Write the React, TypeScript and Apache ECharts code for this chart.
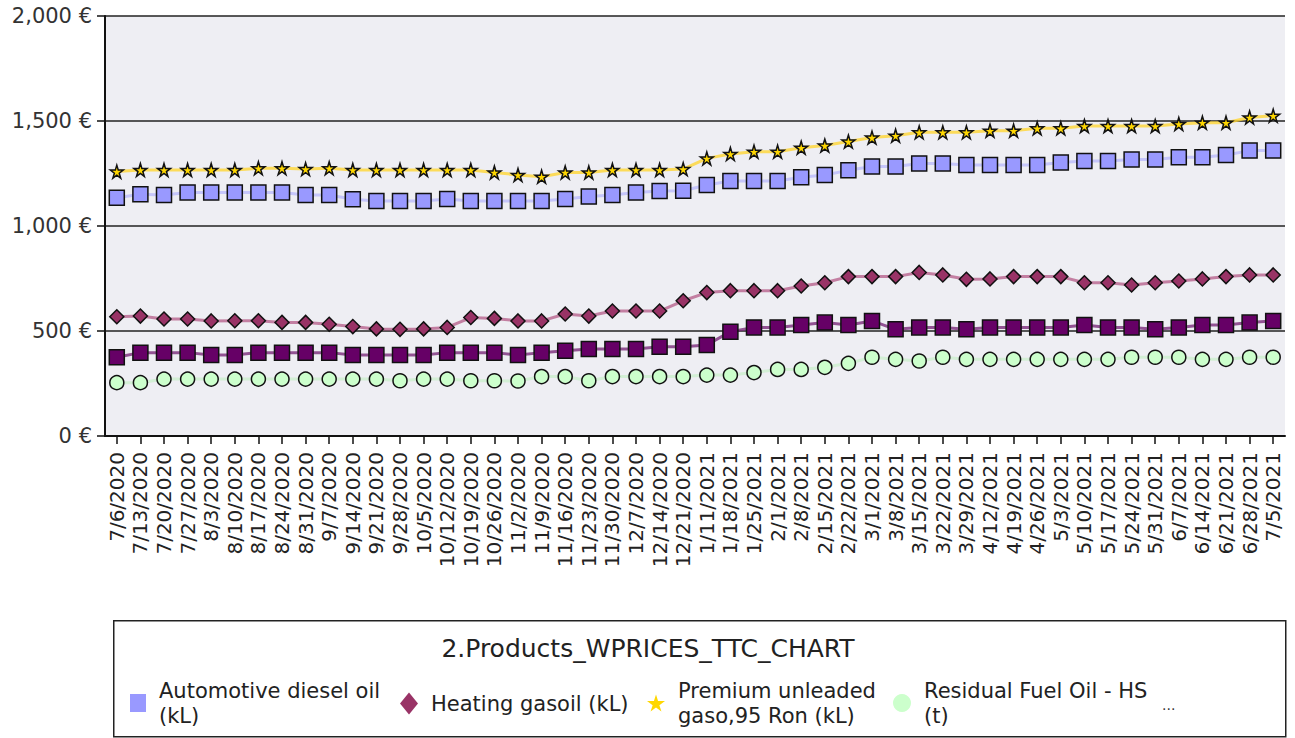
import React, { useEffect, useRef } from 'react';
import * as echarts from 'echarts';

const categories = [
  '7/6/2020', '7/13/2020', '7/20/2020', '7/27/2020', '8/3/2020', '8/10/2020', '8/17/2020', '8/24/2020',
  '8/31/2020', '9/7/2020', '9/14/2020', '9/21/2020', '9/28/2020', '10/5/2020', '10/12/2020', '10/19/2020',
  '10/26/2020', '11/2/2020', '11/9/2020', '11/16/2020', '11/23/2020', '11/30/2020', '12/7/2020', '12/14/2020',
  '12/21/2020', '1/11/2021', '1/18/2021', '1/25/2021', '2/1/2021', '2/8/2021', '2/15/2021', '2/22/2021',
  '3/1/2021', '3/8/2021', '3/15/2021', '3/22/2021', '3/29/2021', '4/12/2021', '4/19/2021', '4/26/2021',
  '5/3/2021', '5/10/2021', '5/17/2021', '5/24/2021', '5/31/2021', '6/7/2021', '6/14/2021', '6/21/2021',
  '6/28/2021', '7/5/2021',
];

const diesel = [
  1135, 1151, 1148, 1160, 1159, 1160, 1159, 1160, 1148, 1148, 1127, 1119, 1119, 1119, 1129, 1119, 1119,
  1119, 1119, 1129, 1140, 1148, 1159, 1167, 1168, 1195, 1214, 1214, 1214, 1232, 1243, 1265, 1283,
  1283, 1298, 1298, 1290, 1290, 1290, 1290, 1302, 1310, 1310, 1317, 1317, 1327, 1327, 1338, 1359, 1359,
];

const heating = [
  568, 571, 557, 557, 548, 549, 549, 541, 541, 532, 521, 510, 508, 510, 517, 564, 560,
  548, 548, 581, 571, 595, 595, 595, 644, 683, 692, 692, 692, 714, 730, 759, 759,
  759, 779, 767, 746, 748, 759, 759, 759, 730, 730, 719, 730, 738, 748, 759, 767, 767,
];

const premium = [
  1259, 1267, 1267, 1267, 1267, 1267, 1275, 1275, 1271, 1275, 1267, 1267, 1267, 1267, 1267, 1267, 1255,
  1243, 1235, 1255, 1255, 1267, 1267, 1267, 1271, 1322, 1343, 1354, 1354, 1373, 1383, 1402, 1421,
  1430, 1446, 1446, 1446, 1454, 1454, 1465, 1465, 1476, 1476, 1476, 1476, 1486, 1492, 1492, 1517, 1525,
];

const residualHS = [
  254, 254, 271, 271, 271, 271, 271, 271, 271, 271, 271, 271, 263, 271, 271, 263, 263,
  262, 283, 283, 263, 283, 283, 283, 283, 290, 290, 302, 317, 317, 327, 346, 375,
  365, 357, 375, 365, 365, 365, 365, 365, 365, 365, 375, 375, 375, 365, 365, 375, 375,
];

const residualLS = [
  375, 397, 397, 397, 386, 386, 397, 397, 397, 397, 386, 386, 386, 386, 397, 397, 397,
  386, 397, 406, 414, 414, 414, 425, 425, 433, 497, 517, 517, 529, 540, 529, 548,
  508, 517, 517, 508, 517, 517, 517, 517, 529, 517, 517, 508, 517, 529, 529, 540, 548,
];

const seriesNames = [
  'Automotive diesel oil (kL)',
  'Heating gasoil (kL)',
  'Premium unleaded gaso,95 Ron (kL)',
  'Residual Fuel Oil - HS (t)',
  'Residual Fuel Oil - LS (t)',
];

const legendLabels = [
  'Automotive diesel oil\n(kL)',
  'Heating gasoil (kL)',
  'Premium unleaded\ngaso,95 Ron (kL)',
  'Residual Fuel Oil - HS\n(t)',
];

const chartTitle = '2.Products_WPRICES_TTC_CHART';

const STAR = 'path://M50,0 L61,35 L98,35 L68,57 L79,91 L50,70 L21,91 L32,57 L2,35 L39,35 Z';
const FONT = 'DejaVu Sans';

function fmtEuro(v: number): string {
  return String(v).replace(/\B(?=(\d{3})+(?!\d))/g, ',') + ' €';
}

export default function App() {
  const ref = useRef<HTMLDivElement>(null);

  useEffect(() => {
    if (!ref.current) return;
    const chart = echarts.init(ref.current, undefined, { renderer: 'svg' });

    const mk = (
      name: string,
      data: number[],
      symbol: string,
      size: number,
      fill: string,
      line: string,
      lineOpacity: number,
      z: number,
    ) => ({
      name,
      type: 'line',
      data,
      symbol,
      symbolSize: size,
      z,
      itemStyle: { color: fill, borderColor: '#111', borderWidth: 1.5 },
      lineStyle: { color: line, width: 3, opacity: lineOpacity },
      emphasis: { disabled: true },
    });

    const legendTextStyle = {
      fontFamily: FONT,
      fontSize: 21,
      color: '#222',
      lineHeight: 25,
      padding: [0, 0, 0, 8],
    };

    const mkLegend = (i: number, icon: string, left: number, top: number, w: number, h: number) => ({
      data: [seriesNames[i]],
      left,
      top,
      padding: 0,
      icon,
      itemWidth: w,
      itemHeight: h,
      selectedMode: false,
      formatter: () => legendLabels[i],
      textStyle: legendTextStyle,
      itemStyle: { borderWidth: 0 },
    });

    chart.setOption({
      animation: false,
      backgroundColor: '#ffffff',
      textStyle: { fontFamily: FONT },
      grid: {
        left: 105,
        right: 10,
        top: 16,
        bottom: 302,
        show: true,
        backgroundColor: '#eeeef3',
        borderWidth: 0,
      },
      xAxis: {
        type: 'category',
        data: categories,
        boundaryGap: true,
        axisLine: { show: true, lineStyle: { color: '#111', width: 2 } },
        axisTick: { show: true, alignWithLabel: true, length: 8, lineStyle: { color: '#111', width: 1.5 } },
        axisLabel: {
          interval: 0,
          rotate: 90,
          margin: 16,
          fontFamily: FONT,
          fontSize: 20,
          color: '#222',
        },
        splitLine: { show: false },
      },
      yAxis: {
        type: 'value',
        min: 0,
        max: 2000,
        interval: 500,
        axisLine: { show: true, lineStyle: { color: '#111', width: 2 } },
        axisTick: { show: true, length: 8, lineStyle: { color: '#111', width: 1.5 } },
        axisLabel: {
          margin: 13,
          fontFamily: FONT,
          fontSize: 21,
          color: '#333',
          formatter: (v: number) => fmtEuro(v),
        },
        splitLine: { show: true, lineStyle: { color: '#222', width: 1.5 } },
      },
      legend: [
        mkLegend(0, 'rect', 130, 678, 16, 18),
        mkLegend(1, 'diamond', 400, 691, 18, 22),
        mkLegend(2, STAR, 647, 678, 18, 18),
        mkLegend(3, 'circle', 893, 678, 18, 18),
      ],
      graphic: [
        {
          type: 'rect',
          left: 113,
          top: 620,
          shape: { width: 1172, height: 116 },
          style: { fill: '#ffffff', stroke: '#222', lineWidth: 1.5 },
          z: -1,
        },
        {
          type: 'text',
          x: 648,
          y: 648,
          style: {
            text: chartTitle,
            fontFamily: FONT,
            fontSize: 25,
            fill: '#222',
            textAlign: 'center',
            textVerticalAlign: 'middle',
          },
        },
        {
          type: 'text',
          x: 1162,
          y: 698,
          style: { text: '...', fontFamily: FONT, fontSize: 14, fill: '#333' },
        },
      ],
      series: [
        mk(seriesNames[3], residualHS, 'circle', 14, '#ccffcc', '#c8f0c8', 0.7, 2),
        mk(seriesNames[4], residualLS, 'rect', 15, '#660066', '#7a2a7a', 0.8, 3),
        mk(seriesNames[1], heating, 'diamond', 14, '#993366', '#b0507f', 0.7, 4),
        mk(seriesNames[0], diesel, 'rect', 15, '#9999ff', '#aaaaff', 0.6, 5),
        mk(seriesNames[2], premium, STAR, 13, '#ffd700', '#ffd633', 0.8, 6),
      ],
    });

    return () => chart.dispose();
  }, []);

  return (
    <div
      ref={ref}
      style={{ position: 'fixed', left: 0, top: 0, width: 1295, height: 738, background: '#fff' }}
    />
  );
}
